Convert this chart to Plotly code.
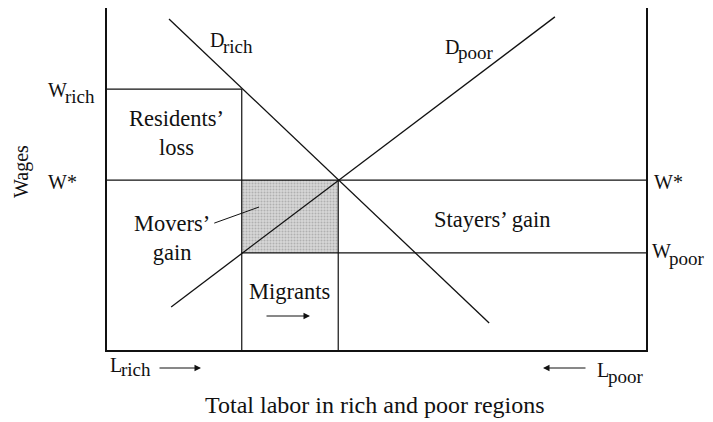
import plotly.graph_objects as go

# ---- data (labor share 0-100 on x, wage index 0-100 on y) ----
W_RICH = 76.3
W_STAR = 49.7
W_POOR = 28.4
L_RICH_BEFORE = 25.0
L_EQ = 42.9
d_rich_x = [11.5, 70.9]
d_rich_y = [96.8, 7.9]
d_poor_x = [11.9, 83.1]
d_poor_y = [12.6, 97.4]
movers_ptr_x = [19.9, 28.2]
movers_ptr_y = [37.1, 41.8]

FONT = "Liberation Serif"
INK = "#111111"

# plot area in page pixels
PL, PR, PT, PB = 107, 646, 8, 350
W, H = 713, 422

fig = go.Figure()

def line(x, y, w=1.3):
    fig.add_trace(go.Scatter(x=x, y=y, mode="lines", line=dict(color=INK, width=w),
                             hoverinfo="skip", showlegend=False, cliponaxis=False))

# shaded movers' gain box
fig.add_trace(go.Scatter(
    x=[L_RICH_BEFORE, L_EQ, L_EQ, L_RICH_BEFORE, L_RICH_BEFORE],
    y=[W_POOR, W_POOR, W_STAR, W_STAR, W_POOR],
    mode="lines", fill="toself", fillcolor="#c6c6c6",
    fillpattern=dict(shape=".", bgcolor="#d6d6d6", fgcolor="#8a8a8a", size=3, solidity=0.35),
    line=dict(width=0), hoverinfo="skip", showlegend=False))

line([0, L_RICH_BEFORE], [W_RICH, W_RICH], 1.2)
line([0, 100], [W_STAR, W_STAR], 1.2)
line([L_RICH_BEFORE, 100], [W_POOR, W_POOR], 1.2)
line([L_RICH_BEFORE, L_RICH_BEFORE], [0, W_RICH], 1.2)
line([L_EQ, L_EQ], [0, W_STAR], 1.2)
line(d_rich_x, d_rich_y)
line(d_poor_x, d_poor_y)
line(movers_ptr_x, movers_ptr_y, 1.0)

def px(x, y):
    return (x - PL) / (PR - PL), (PB - y) / (PB - PT)

def text(x, y, s, anchor="center", size=22, angle=0, xshift=0):
    xp, yp = px(x, y)
    fig.add_annotation(x=xp, y=yp, xref="paper", yref="paper", text=s,
                       showarrow=False, xanchor=anchor, yanchor="middle", textangle=angle,
                       xshift=xshift, font=dict(family=FONT, size=size, color=INK))

# approximate advance widths (em) of the main letters in Liberation Serif
EM = {"W": 0.944, "D": 0.722, "L": 0.611}
MAIN, SUB = 20, 19

def label(main, sub, x, y_main, y_sub):
    text(x, y_main, main, "left", MAIN)
    text(x, y_sub, sub, "left", SUB, xshift=EM[main] * MAIN - 1.5)

label("W", "rich", 46, 90, 96)
text(46, 182, "W*", "left", MAIN)
text(21, 172, "Wages", size=20, angle=-90)
label("D", "rich", 208, 40, 46)
label("D", "poor", 443, 47, 52)
text(176, 133, "Residents’<br>loss", size=22.5)
text(172, 238, "Movers’<br>gain", size=22.5)
text(492, 219, "Stayers’ gain", size=22.5)
text(289, 291, "Migrants", size=22.5)
text(652, 182, "W*", "left", MAIN)
label("W", "poor", 650, 251, 258)
label("L", "rich", 108, 365, 370)
label("L", "poor", 595, 370, 376)
text(375, 405, "Total labor in rich and poor regions", size=24)

def arrow(x_tail, x_head, y):
    xp, yp = px(x_head, y)
    fig.add_annotation(x=xp, y=yp, xref="paper", yref="paper",
                       ax=x_tail - x_head, ay=0, axref="pixel", ayref="pixel",
                       text="", showarrow=True, arrowhead=2, arrowsize=1.3,
                       arrowwidth=1.0, arrowcolor=INK)

arrow(265, 310, 316)
arrow(158, 201, 368)
arrow(587, 543, 368)

fig.update_xaxes(range=[0, 100], showgrid=False, zeroline=False, showticklabels=False,
                 ticks="", showline=True, linecolor=INK, linewidth=1.6, mirror=False)
fig.update_yaxes(range=[0, 100], showgrid=False, zeroline=False, showticklabels=False,
                 ticks="", showline=True, linecolor=INK, linewidth=1.6, mirror=True)
fig.update_layout(width=W, height=H,
                  margin=dict(l=PL, r=W - PR, t=PT, b=H - PB),
                  paper_bgcolor="white", plot_bgcolor="white", showlegend=False)

# remove the browser's default 8px body margin so the figure fills the window exactly
fig.write_html("out.html", config={"displayModeBar": False},
               post_script="document.body.style.margin='0';document.body.style.overflow='hidden';")
